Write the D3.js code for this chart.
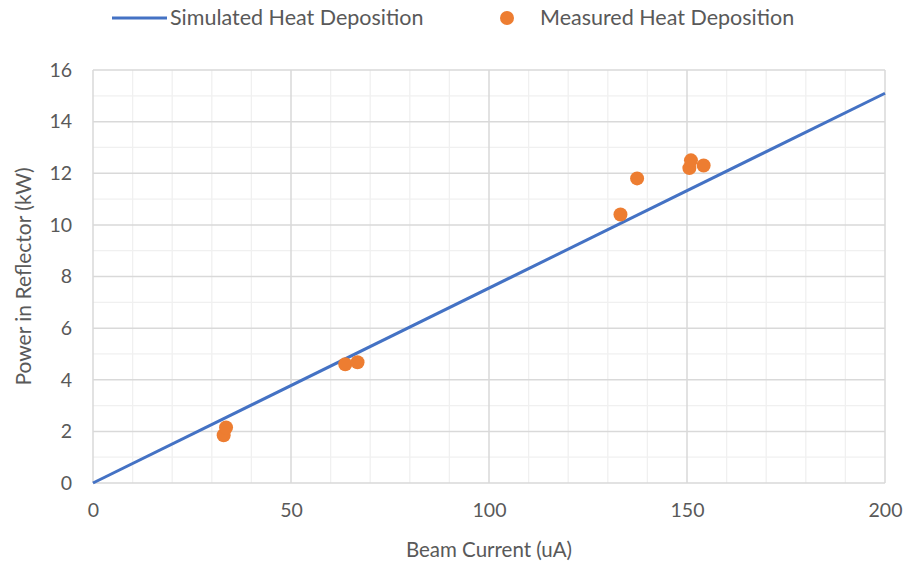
<!DOCTYPE html>
<html><head><meta charset="utf-8">
<script src="https://cdn.jsdelivr.net/npm/d3@7"></script>
<style>body{margin:0;background:#fff;}svg{display:block;font-family:Lato, "Open Sans", sans-serif;}</style>
</head><body><svg id="c" width="905" height="568"></svg>
<script>
const simX = [0, 200];
const simY = [0, 15.1];
const measX = [33.0, 33.6, 63.7, 66.8, 133.2, 137.4, 150.6, 151.0, 154.2];
const measY = [1.85, 2.15, 4.6, 4.68, 10.4, 11.8, 12.2, 12.5, 12.3];
const xTicks = [0, 50, 100, 150, 200];
const yTicks = [0, 2, 4, 6, 8, 10, 12, 14, 16];
const seriesNames = ["Simulated Heat Deposition", "Measured Heat Deposition"];
const axisTitles = ["Beam Current (uA)", "Power in Reflector (kW)"];

const svg = d3.select("#c");
const m = {l: 93, r: 885, t: 70, b: 483};
const x = d3.scaleLinear().domain([0, 200]).range([m.l, m.r]);
const y = d3.scaleLinear().domain([0, 16]).range([m.b, m.t]);
const txt = "#595959";

// minor grid
const g = svg.append("g");
g.selectAll(".mx").data(d3.range(0, 201, 10).filter(v => v % 50)).join("line")
  .attr("x1", d => x(d)).attr("x2", d => x(d)).attr("y1", m.t).attr("y2", m.b)
  .attr("stroke", "#f0f0f0").attr("stroke-width", 1.3);
g.selectAll(".my").data(d3.range(1, 16, 2)).join("line")
  .attr("y1", d => y(d)).attr("y2", d => y(d)).attr("x1", m.l).attr("x2", m.r)
  .attr("stroke", "#f0f0f0").attr("stroke-width", 1.3);
// major grid
g.selectAll(".Mx").data(xTicks).join("line")
  .attr("x1", d => x(d)).attr("x2", d => x(d)).attr("y1", m.t).attr("y2", m.b)
  .attr("stroke", "#d9d9d9").attr("stroke-width", 1.5);
g.selectAll(".My").data(yTicks).join("line")
  .attr("y1", d => y(d)).attr("y2", d => y(d)).attr("x1", m.l).attr("x2", m.r)
  .attr("stroke", "#d9d9d9").attr("stroke-width", 1.5);

// axes via d3 axis, styled
const xa = svg.append("g").attr("transform", `translate(0,${m.b})`)
  .call(d3.axisBottom(x).tickValues(xTicks).tickSize(0).tickPadding(20));
const ya = svg.append("g").attr("transform", `translate(${m.l},0)`)
  .call(d3.axisLeft(y).tickValues(yTicks).tickSize(0).tickPadding(21));
[xa, ya].forEach(a => {
  a.select(".domain").remove();
  a.selectAll("text").attr("fill", txt).style("font-size", "19.5px").style("font-family", "Lato, sans-serif");
});

// simulated line
const line = d3.line().x(d => x(d[0])).y(d => y(d[1]));
svg.append("path").datum(simX.map((v, i) => [v, simY[i]]))
  .attr("d", line).attr("fill", "none").attr("stroke", "#4472C4").attr("stroke-width", 3);

// measured points
svg.selectAll(".pt").data(measX.map((v, i) => [v, measY[i]])).join("circle")
  .attr("cx", d => x(d[0])).attr("cy", d => y(d[1])).attr("r", 7)
  .attr("fill", "#ED7D31");

// axis titles
svg.append("text").attr("x", (m.l + m.r) / 2).attr("y", 557).attr("text-anchor", "middle")
  .attr("fill", txt).style("font-size", "20.5px").text(axisTitles[0]);
svg.append("text").attr("transform", `translate(31,${(m.t + m.b) / 2}) rotate(-90)`)
  .attr("text-anchor", "middle").attr("fill", txt).style("font-size", "21px").text(axisTitles[1]);

// legend
const lg = svg.append("g");
lg.append("line").attr("x1", 112).attr("x2", 167).attr("y1", 18).attr("y2", 18)
  .attr("stroke", "#4472C4").attr("stroke-width", 3);
lg.append("text").attr("x", 170).attr("y", 25).attr("fill", txt).style("font-size", "21.5px").text(seriesNames[0]);
lg.append("circle").attr("cx", 507).attr("cy", 18).attr("r", 7).attr("fill", "#ED7D31");
lg.append("text").attr("x", 540).attr("y", 25).attr("fill", txt).style("font-size", "21.5px").text(seriesNames[1]);
</script></body></html>
